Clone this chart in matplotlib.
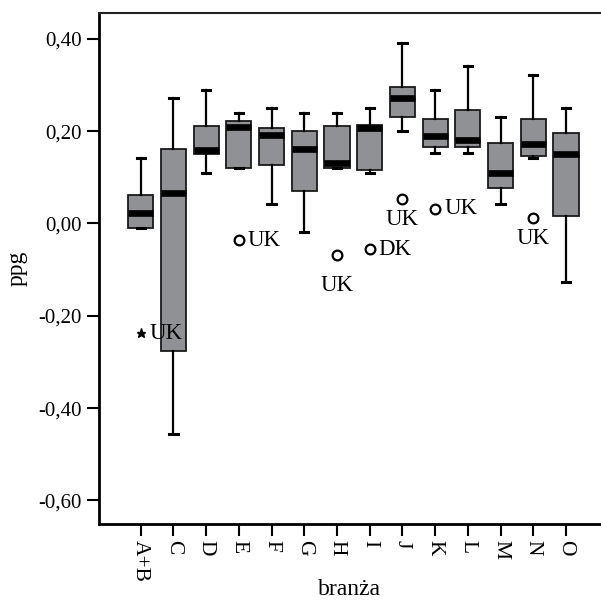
import numpy as np
import matplotlib.pyplot as plt
from matplotlib.ticker import FuncFormatter

# Plot config
plt.rcParams["font.family"] = "serif"
plt.rcParams["font.serif"] = ["Liberation Serif", "DejaVu Serif"]
plt.rcParams["xtick.labelsize"] = 15.5
plt.rcParams["ytick.labelsize"] = 15
plt.rcParams["axes.labelsize"] = 17

# Box statistics per branch
categories = ['A+B', 'C', 'D', 'E', 'F', 'G', 'H', 'I', 'J', 'K', 'L', 'M', 'N', 'O']
whisker_low = [-0.009, -0.456, 0.110, 0.121, 0.042, -0.018, 0.121, 0.110, 0.201, 0.152, 0.152, 0.042, 0.142, -0.128]
q1 = [-0.009, -0.277, 0.150, 0.121, 0.126, 0.071, 0.121, 0.115, 0.230, 0.166, 0.166, 0.077, 0.146, 0.016]
median = [0.022, 0.066, 0.160, 0.209, 0.191, 0.161, 0.130, 0.206, 0.271, 0.190, 0.180, 0.110, 0.171, 0.150]
q3 = [0.061, 0.161, 0.211, 0.222, 0.206, 0.201, 0.211, 0.213, 0.295, 0.226, 0.245, 0.175, 0.226, 0.195]
whisker_high = [0.142, 0.271, 0.290, 0.240, 0.250, 0.240, 0.240, 0.250, 0.390, 0.290, 0.340, 0.230, 0.321, 0.250]

# Outliers (circle) and extreme values (star)
outlier_cat = ['A+B', 'E', 'H', 'I', 'J', 'K', 'N']
outlier_val = [-0.238, -0.036, -0.069, -0.056, 0.052, 0.032, 0.011]
outlier_lab = ['UK', 'UK', 'UK', 'DK', 'UK', 'UK', 'UK']
outlier_extreme = [True, False, False, False, False, False, False]

# label offsets in pixels from the marker
label_offset = [(9, 0), (9, 0), (0, -30), (9, 0), (0, -20), (9, 0), (0, -20)]

positions = np.arange(1, len(categories) + 1)
stats = [dict(label=c, whislo=lo, q1=a, med=m, q3=b, whishi=hi, fliers=[])
         for c, lo, a, m, b, hi in zip(categories, whisker_low, q1, median, q3, whisker_high)]

fig = plt.figure(figsize=(6.01, 6.0), dpi=100)
ax = fig.add_axes([0.1639, 0.1275, 0.8361, 0.8503])

ax.bxp(stats, positions=positions, widths=0.77, capwidths=0.25, patch_artist=True,
       showfliers=False,
       boxprops=dict(facecolor='#8f9194', edgecolor='#1a1a1a', linewidth=1.3),
       medianprops=dict(color='black', linewidth=4.8, solid_capstyle='butt'),
       whiskerprops=dict(color='black', linewidth=1.6),
       capprops=dict(color='black', linewidth=2.2))

for cat, val, lab, ext, off in zip(outlier_cat, outlier_val, outlier_lab, outlier_extreme, label_offset):
    x = categories.index(cat) + 1
    if ext:
        ax.plot(x, val, marker='*', color='black', ms=6.5, ls='none')
    else:
        ax.plot(x, val, marker='o', mfc='none', mec='black', mew=1.6, ms=7, ls='none')
    ha = 'left' if off[0] > 0 else 'center'
    ax.annotate(lab, (x, val), xytext=off, textcoords='offset pixels',
                ha=ha, va='center', fontsize=16.5)

ax.set_xlim(-0.29, 15.07)
ax.set_ylim(-0.65, 0.455)
ax.set_xticks(positions)
ax.set_xticklabels(categories, rotation=270)
ax.set_yticks([0.4, 0.2, 0.0, -0.2, -0.4, -0.6])
ax.yaxis.set_major_formatter(FuncFormatter(lambda v, p: f"{v:.2f}".replace('.', ',').replace('-0,00', '0,00')))
ax.tick_params(length=8.6, width=1.5, pad=3.6, colors='black')

ax.spines['right'].set_visible(False)
ax.spines['top'].set_color('#222222')
ax.spines['top'].set_linewidth(1.5)
ax.spines['left'].set_linewidth(2)
ax.spines['bottom'].set_linewidth(2)

ax.set_xlabel("branża")
ax.set_ylabel("ppg")
ax.xaxis.set_label_coords(0.5, -0.108)
ax.yaxis.set_label_coords(-0.142, 0.5)

fig.savefig("out.png", dpi=100)
